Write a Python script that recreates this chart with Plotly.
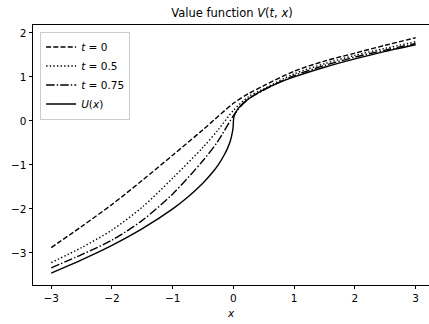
import plotly.graph_objects as go

# t = 0 (dashed)
x_t0 = [-3.0, -2.5, -2.0, -1.5, -1.0, -0.5, 0.0, 0.25, 0.5, 1.0, 1.5, 2.0, 2.5, 3.0]
v_t0 = [-2.88, -2.40, -1.90, -1.35, -0.78, -0.20, 0.40, 0.62, 0.80, 1.13, 1.36, 1.54, 1.72, 1.89]

# t = 0.5 (dotted)
x_t05 = [-3.0, -2.5, -2.0, -1.5, -1.0, -0.5, -0.25, 0.0, 0.25, 0.5, 1.0, 1.5, 2.0, 2.5, 3.0]
v_t05 = [-3.22, -2.88, -2.48, -1.96, -1.30, -0.60, -0.20, 0.24, 0.55, 0.73, 1.07, 1.30, 1.49, 1.65, 1.80]

# t = 0.75 (dash-dot)
x_t075 = [-3.0, -2.5, -2.0, -1.5, -1.0, -0.5, -0.25, 0.0, 0.1, 0.25, 0.5, 1.0, 1.5, 2.0, 2.5, 3.0]
v_t075 = [-3.34, -3.04, -2.71, -2.26, -1.66, -0.90, -0.45, 0.12, 0.30, 0.50, 0.70, 1.03, 1.26, 1.45, 1.61, 1.76]

# U(x) (solid)
x_u = [-3.0, -2.5, -2.0, -1.5, -1.0, -0.75, -0.5, -0.35, -0.25, -0.15, -0.1, -0.05, -0.02, -0.005,
       0.0, 0.005, 0.02, 0.05, 0.1, 0.2, 0.35, 0.5, 0.75, 1.0, 1.5, 2.0, 2.5, 3.0]
v_u = [-3.46, -3.16, -2.83, -2.45, -2.00, -1.73, -1.41, -1.18, -1.00, -0.77, -0.63, -0.45, -0.28, -0.14,
       0.0, 0.07, 0.14, 0.22, 0.32, 0.45, 0.59, 0.71, 0.87, 1.00, 1.22, 1.41, 1.58, 1.73]

x_ticks = [-3, -2, -1, 0, 1, 2, 3]
y_ticks = [-3, -2, -1, 0, 1, 2]

FONT = "DejaVu Sans"
fig = go.Figure()
fig.add_trace(go.Scatter(x=x_t0, y=v_t0, mode="lines", name="<i>t</i> = 0",
                         line=dict(color="black", width=1.4, dash="5px,2.2px", shape="spline", smoothing=0.8)))
fig.add_trace(go.Scatter(x=x_t05, y=v_t05, mode="lines", name="<i>t</i> = 0.5",
                         line=dict(color="black", width=1.4, dash="1.4px,2.2px", shape="spline", smoothing=0.8)))
fig.add_trace(go.Scatter(x=x_t075, y=v_t075, mode="lines", name="<i>t</i> = 0.75",
                         line=dict(color="black", width=1.4, dash="8.5px,2.1px,1.4px,2.1px", shape="spline", smoothing=0.8)))
fig.add_trace(go.Scatter(x=x_u, y=v_u, mode="lines", name="<i>U</i>(<i>x</i>)",
                         line=dict(color="black", width=1.4, shape="spline", smoothing=0.5)))

fig.update_layout(
    width=429, height=324,
    margin=dict(l=33, r=0, t=25, b=39),
    paper_bgcolor="white", plot_bgcolor="white",
    font=dict(family=FONT, size=10.5, color="black"),
    title=dict(text="Value function <i>V</i>(<i>t</i>, <i>x</i>)", x=232 / 429, xanchor="center",
               y=1 - 13 / 324, yanchor="middle", font=dict(family=FONT, size=11.5, color="black")),
    showlegend=True,
    legend=dict(x=0.018, y=0.975, xanchor="left", yanchor="top",
                bgcolor="rgba(255,255,255,0.8)", bordercolor="#cccccc", borderwidth=1,
                font=dict(family=FONT, size=10.5, color="black"),
                tracegroupgap=0, itemwidth=30),
    xaxis=dict(range=[-3.3, 3.22], tickvals=x_ticks, ticktext=["\u22123", "\u22122", "\u22121", "0", "1", "2", "3"],
               showgrid=False, zeroline=False, showline=True, linecolor="black", linewidth=0.8,
               mirror=True, ticks="outside", ticklen=3.5, tickwidth=0.8, tickcolor="black",
               title=dict(text="<i>x</i>", font=dict(family=FONT, size=10.5), standoff=6)),
    yaxis=dict(range=[-3.73, 2.18], tickvals=y_ticks, ticktext=["\u22123", "\u22122", "\u22121", "0", "1", "2"],
               showgrid=False, zeroline=False, showline=True, linecolor="black", linewidth=0.8,
               mirror=False, ticks="outside", ticklen=3.5, tickwidth=0.8, tickcolor="black"),
)

fig.write_html("out.html")
